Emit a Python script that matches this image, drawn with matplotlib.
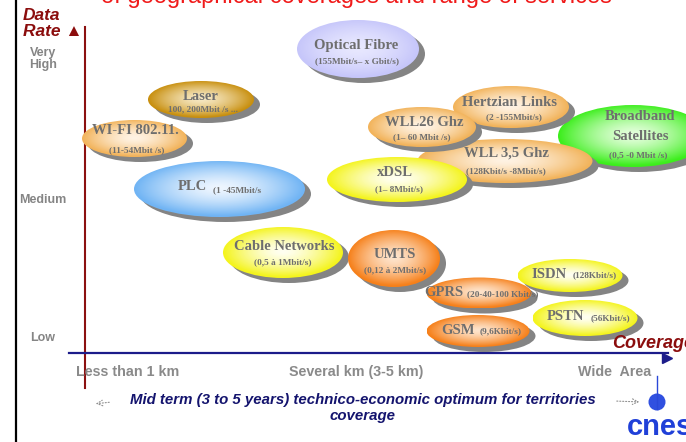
import numpy as np
import matplotlib
matplotlib.use("Agg")
import matplotlib.pyplot as plt
from matplotlib.patches import Ellipse, Circle

# Technologies placed on a coverage (x) / data rate (y) map, slide pixel units
techs = ["Optical Fibre", "Laser", "WI-FI 802.11.", "PLC", "Broadband\nSatellites",
         "WLL 3,5 Ghz", "xDSL", "Hertzian Links", "WLL26 Ghz", "Cable Networks",
         "GPRS", "UMTS", "GSM", "ISDN", "PSTN"]
rates = ["(155Mbit/s– x Gbit/s)", "100, 200Mbit /s ...", "(11-54Mbit /s)", "(1 -45Mbit/s",
         "(0,5 -0 Mbit /s)", "(128Kbit/s -8Mbit/s)", "(1– 8Mbit/s)", "(2 -155Mbit/s)",
         "(1– 60 Mbit /s)", "(0,5 à 1Mbit/s)", "(20-40-100 Kbit/s)", "(0,12 à 2Mbit/s)",
         "(9,6Kbit/s)", "(128Kbit/s)", "(56Kbit/s)"]
coverage = [358, 201, 134.5, 219.5, 633, 505, 397, 511, 422, 283, 479, 394, 478, 570, 585]
rate_level = [49, 99.5, 138.5, 189, 136, 161, 179.5, 107, 127, 252.5, 293, 258.5, 331, 275.5, 318]
coverage_span = [122, 106, 105, 171, 150, 175, 140, 116, 108, 120, 105, 92, 103, 105, 105]
rate_span = [58, 37, 37, 56, 62, 44, 45, 42, 40, 51, 31, 57, 32, 33, 36]
family = ["fibre", "laser", "light", "plc", "sat", "light", "yellow", "light", "light",
          "yellow", "mobile", "mobile", "mobile", "yellow", "yellow"]

rate_axis = ["Very\nHigh", "Medium", "Low"]
coverage_axis = ["Less than 1 km", "Several km (3-5 km)", "Wide  Area"]

# colours (edge, centre) of the radial fills
fills = {
    "fibre": ("#c6c6fa", "#e8e8ff"),
    "laser": ("#c88f0e", "#f6e8c4"),
    "light": ("#f2b35a", "#fff3e4"),
    "plc": ("#70b4f4", "#eef6ff"),
    "sat": ("#3cee1c", "#e4ffdc"),
    "yellow": ("#f4f41c", "#fffff2"),
    "mobile": ("#f6801a", "#fee4cc"),
}

# label layout: (main dx, main dy, sub dx, sub dy, inline)
layout = [(-2, -4, -1, 12, False), (0, -3.5, 2, 10, False), (0.5, -7.5, 2.5, 11.5, False),
          (-27.5, -2, -6.5, 1, True), (7, -9, 5, 19, False), (1, -8, 1, 10, False),
          (-2, -6.5, 2, 9.5, False), (-1, -4, 3, 10, False), (2, -5, 0, 10, False),
          (1, -6.5, 0, 9.5, False), (-35.5, 0, -12, 1, True), (1, -3.5, 1, 11.5, False),
          (-19.5, -1, 2, 0.5, True), (-21, -1.5, 3, 0, True), (-19.5, -2, 6, 0, True)]


def radial(edge, centre, n=90):
    yy, xx = np.mgrid[0:1:n * 1j, 0:1:n * 1j]
    r = np.sqrt(((xx - 0.5) / 0.5) ** 2 + ((yy - 0.48) / 0.5) ** 2)
    t = np.clip(r, 0, 1)[..., None] ** 1.5
    e = np.array(matplotlib.colors.to_rgb(edge))
    c = np.array(matplotlib.colors.to_rgb(centre))
    return c * (1 - t) + e * t


fig = plt.figure(figsize=(6.86, 4.42), dpi=100)
ax = fig.add_axes([0, 0, 1, 1])
ax.set_xlim(0, 686)
ax.set_ylim(442, 0)
ax.axis("off")

serif = "Liberation Serif"
sans = "Liberation Sans"
grey = "#6e6e6e"

# slide title, cut at the top
ax.text(356, 3, "of geographical coverages and range of services", color="#f01a1a",
        fontsize=17, family=sans, ha="center", va="baseline")

# slide border and axes
ax.plot([16, 16], [0, 442], color="black", lw=1.6)
ax.plot([85, 85], [27, 388], color="#8b1010", lw=1.5)
ax.plot([69, 668], [353, 353], color="#1c1c8a", lw=1.6)
ax.plot([667], [358], marker=">", color="#1c1c8a", markersize=7)

for i in range(len(techs)):
    cx, cy = coverage[i], rate_level[i]
    w, h = coverage_span[i], rate_span[i]
    z = 3 + i * 0.1
    ax.add_patch(Ellipse((cx + 6, cy + 5), w, h, color="#848484", lw=0, zorder=z))
    edge, centre = fills[family[i]]
    im = ax.imshow(radial(edge, centre), extent=(cx - w / 2, cx + w / 2, cy + h / 2, cy - h / 2),
                   aspect="auto", interpolation="bilinear", zorder=z + 0.05)
    im.set_clip_path(Ellipse((cx, cy), w, h, transform=ax.transData))

for i in range(len(techs)):
    cx, cy = coverage[i], rate_level[i]
    mdx, mdy, sdx, sdy, inline = layout[i]
    ls = 1.7 if "\n" in techs[i] else 1.2
    ax.text(cx + mdx, cy + mdy, techs[i], family=serif, weight="bold", fontsize=10.5,
            color=grey, ha="center", va="center", linespacing=ls, zorder=10)
    ax.text(cx + sdx, cy + sdy, rates[i], family=serif, weight="bold", fontsize=6.7,
            color=grey, ha="left" if inline else "center", va="center", zorder=10)

ax.set_xlim(0, 686)
ax.set_ylim(442, 0)

# axis titles
ax.text(23, 16, "Data", color="#8b0d0d", family=sans, weight="bold", style="italic",
        fontsize=12.5, va="center")
ax.text(23, 32, "Rate \u25B2", color="#8b0d0d", family=sans, weight="bold", style="italic",
        fontsize=12.5, va="center")
ax.text(612, 343, "Coverage", color="#8b0d0d", family=sans, weight="bold", style="italic",
        fontsize=13, va="center", zorder=11)

for lab, y in zip(rate_axis, [59, 200, 338]):
    ax.text(43, y, lab, color="#858585", family=sans, weight="bold", fontsize=9,
            ha="center", va="center", linespacing=0.95)
for lab, x in zip(coverage_axis, [128, 356, 615]):
    ax.text(x, 372, lab, color="#8a8a8a", family=sans, weight="bold", fontsize=10.3,
            ha="center", va="center")

ax.text(363, 400, "Mid term (3 to 5 years) technico-economic optimum for territories",
        color="#14146e", family=sans, weight="bold", style="italic", fontsize=10.8,
        ha="center", va="center")
ax.text(363, 416, "coverage", color="#14146e", family=sans, weight="bold", style="italic",
        fontsize=10.8, ha="center", va="center")
ax.annotate("", xy=(93, 404), xytext=(112, 402),
            arrowprops=dict(arrowstyle="->", ls=":", color="#909090", lw=0.8))
ax.annotate("", xy=(642, 402), xytext=(614, 401),
            arrowprops=dict(arrowstyle="->", ls=":", color="#909090", lw=0.8))

# cnes logo
ax.plot([657, 657], [376, 409], color="#2a48d8", lw=1)
ax.add_patch(Circle((657, 402), 8.5, color="#3050e0", lw=0))
ax.text(627, 427, "cnes", color="#2040d8", family=sans, weight="bold", fontsize=21,
        va="center", ha="left")

fig.savefig("out.png", dpi=100)
